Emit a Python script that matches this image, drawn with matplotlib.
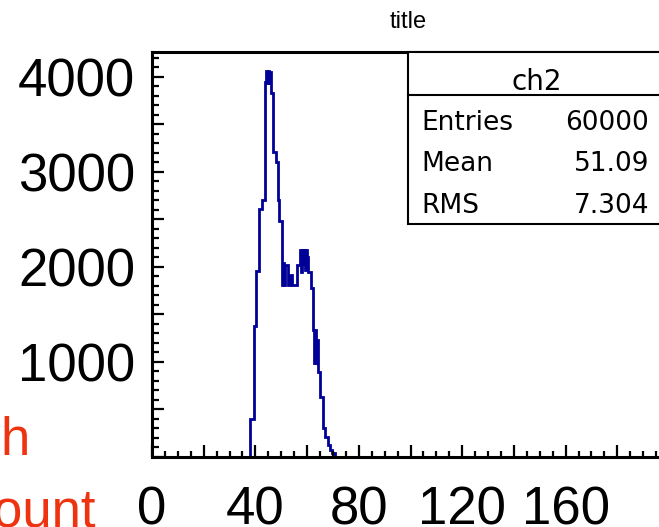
import matplotlib
matplotlib.use("Agg")
import matplotlib.pyplot as plt
from matplotlib.patches import Rectangle
from matplotlib.lines import Line2D
from matplotlib.ticker import MultipleLocator, FuncFormatter

# histogram of ch2 (bin edges and contents)
edges = [0, 38.0, 39.4, 40.4, 41.4, 42.4, 43.6, 44.1, 44.5, 44.9, 45.3, 45.7, 46.0,
         46.9, 48.0, 48.6, 49.2, 50.4, 50.8, 51.2, 51.6, 52.7, 53.4, 54.0, 56.0,
         57.2, 57.6, 58.0, 58.4, 58.8, 59.2, 59.6, 60.0, 60.5, 61.5, 62.4, 62.8,
         63.2, 63.6, 64.0, 64.4, 65.0, 66.3, 67.1, 68.2, 68.9, 69.8, 70.8, 200]
counts = [0, 390, 1370, 1950, 2610, 2700, 3950, 4064, 3930, 4064, 3930, 4050,
          3826, 3211, 3106, 2700, 2484, 1807, 2035, 1807, 2014, 1807, 1912, 1807,
          2014, 2175, 1940, 2175, 2030, 2175, 1960, 2175, 2100, 1947, 1772, 1333,
          982, 1333, 982, 1230, 893, 630, 297, 209, 121, 68, 33, 0]

stats_names = ["Entries", "Mean", "RMS"]
stats_values = ["60000", "51.09", "7.304"]
x_labels = [0, 40, 80, 120, 160]

W, H = 659, 527


def fx(px):
    return px / W


def fy(py):
    return 1 - py / H


fig = plt.figure(figsize=(W / 100, H / 100), dpi=100)
ax = fig.add_axes([fx(152), fy(456.5), (669 - 152) / W, (456.5 - 52) / H])

ax.stairs(counts, edges, color="#000099", linewidth=2.0)
ax.set_xlim(0, 200)
ax.set_ylim(0, 4261)

for s in ["top", "bottom", "left", "right"]:
    ax.spines[s].set_linewidth(2.2)

ax.xaxis.set_major_locator(MultipleLocator(20))
ax.xaxis.set_minor_locator(MultipleLocator(5))
ax.yaxis.set_major_locator(MultipleLocator(500))
ax.yaxis.set_minor_locator(MultipleLocator(100))
ax.xaxis.set_major_formatter(FuncFormatter(lambda v, p: "%d" % v if int(round(v)) in x_labels else ""))
ax.yaxis.set_major_formatter(FuncFormatter(lambda v, p: "%d" % v if v > 0 and int(round(v)) % 1000 == 0 else ""))

ax.tick_params(which="both", direction="in", width=1.6, colors="black")
ax.tick_params(axis="y", which="major", length=8.5, pad=12)
ax.tick_params(axis="y", which="minor", length=5)
ax.tick_params(axis="x", which="major", length=9, pad=21)
ax.tick_params(axis="x", which="minor", length=4)
for lab in ax.get_xticklabels() + ax.get_yticklabels():
    lab.set_fontfamily("Liberation Sans")
    lab.set_fontsize(38)

# title
fig.text(fx(408), fy(22), "title", ha="center", va="center",
         fontsize=17, family="Liberation Sans")

# stats box
box = Rectangle((fx(408), fy(224)), fx(670) - fx(408), fy(52) - fy(224),
                transform=fig.transFigure, facecolor="white", edgecolor="black",
                linewidth=1.5, clip_on=False, zorder=5)
fig.add_artist(box)
fig.add_artist(Line2D([fx(408), fx(670)], [fy(95), fy(95)], transform=fig.transFigure,
                      color="black", linewidth=1.5, zorder=6))
fig.text(fx(537), fy(90), "ch2", ha="center", va="baseline", fontsize=20,
         family="DejaVu Sans", zorder=7)
for name, val, base in zip(stats_names, stats_values, [130, 171, 213]):
    fig.text(fx(421), fy(base), name, ha="left", va="baseline", fontsize=19,
             family="DejaVu Sans", zorder=7)
    fig.text(fx(649), fy(base), val, ha="right", va="baseline", fontsize=19,
             family="DejaVu Sans", zorder=7)

# red axis-title fragments at the cut-off left edge
fig.text(fx(30), fy(455), "h", ha="right", va="baseline", fontsize=38,
         family="Liberation Sans", color="#ee3311")
fig.text(fx(96), fy(528), "Count", ha="right", va="baseline", fontsize=38,
         family="Liberation Sans", color="#ee3311")

fig.savefig("out.png", dpi=100)
